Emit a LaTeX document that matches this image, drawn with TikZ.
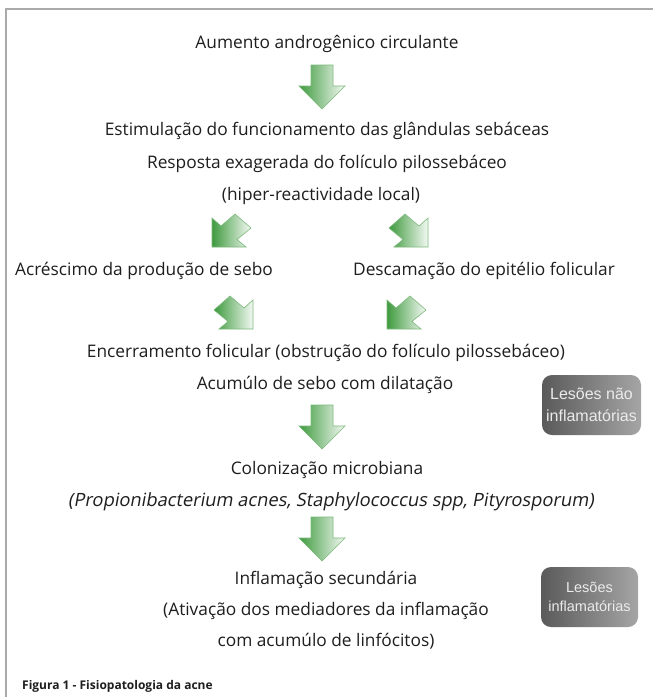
\documentclass[tikz,border=0pt]{standalone}
\usepackage{fontspec}
\setmainfont{Open Sans}
\newfontfamily\slfont[FakeSlant=0.18]{Open Sans}
\newfontfamily\boxfont{Liberation Sans}
\definecolor{gdark}{HTML}{3E9A3E}
\definecolor{glight}{HTML}{F4F9F4}
\definecolor{gline}{HTML}{7DB97D}
\definecolor{bdark}{HTML}{5A5A5A}
\definecolor{blight}{HTML}{A5A5A5}
\definecolor{frame}{HTML}{AAAAAA}
\definecolor{ink}{HTML}{1E1E1E}
\tikzset{
  txt/.style={font=\fontsize{17.3}{20}\selectfont, text=ink, inner sep=0pt, anchor=center},
  arrowfill/.style={left color=gdark, right color=glight, draw=gline, line width=0.6pt, line join=miter},
  lbox/.style={rounded corners=10pt, left color=bdark, right color=blight, text=white!92!black,
    align=center, inner sep=0pt},
  downarrow/.pic={\path[arrowfill] (-11,0) -- (11,0) -- (11,21) -- (23,21) -- (0,44) -- (-23,21) -- (-11,21) -- cycle;},
  swarrow/.pic={\path[arrowfill] (0,0) -- (34,0) -- (25,-7.5) -- (39,-19) -- (23,-33) -- (9,-21) -- (0,-29) -- cycle;},
  searrow/.pic={\path[arrowfill] (0,0) -- (-34,0) -- (-25,-7.5) -- (-39,-19) -- (-23,-33) -- (-9,-21) -- (0,-29) -- cycle;}
}
\begin{document}
\begin{tikzpicture}[x=1pt,y=-1pt]
\useasboundingbox (0,0) rectangle (653,697);
\fill[white] (0,0) rectangle (653,697);
\draw[frame, line width=1.5pt] (6,697) -- (6,9) -- (653,9);

\node[txt] (t1) at (327,44) {Aumento androgênico circulante};
\pic (a1) at (322,65) {downarrow};
\node[txt] (t2) at (327,131) {Estimulação do funcionamento das glândulas sebáceas};
\node[txt] (t3) at (327,164) {Resposta exagerada do folículo pilossebáceo};
\node[txt] (t4) at (321,196) {(hiper-reactividade local)};
\pic (a2) at (212,247) {swarrow};
\pic (a3) at (428,247) {searrow};
\node[txt] (t5a) at (144,271) {Acréscimo da produção de sebo};
\node[txt] (t5b) at (484,271) {Descamação do epitélio folicular};
\pic (a4) at (253,329) {searrow};
\pic (a5) at (387,329) {swarrow};
\node[txt] (t6) at (326,353) {Encerramento folicular (obstrução do folículo pilossebáceo)};
\node[txt] (t7) at (325,385) {Acumúlo de sebo com dilatação};
\pic (a6) at (322,405) {downarrow};
\node[txt] (t8) at (327,470) {Colonização microbiana};
\node[txt, font=\slfont\fontsize{18.3}{20}\selectfont] (t9) at (331,502) {(Propionibacterium acnes, Staphylococcus spp, Pityrosporum)};
\pic (a7) at (322,517) {downarrow};
\node[txt] (t10) at (326,580) {Inflamação secundária};
\node[txt] (t11) at (326,611) {(Ativação dos mediadores da inflamação};
\node[txt] (t12) at (326,641) {com acumúlo de linfócitos)};

\node[lbox, minimum width=99pt, minimum height=60pt, font=\boxfont\fontsize{16}{22}\selectfont] (b1) at (591.5,405) {Lesões não\\inflamatórias};
\node[lbox, minimum width=97pt, minimum height=60pt, font=\boxfont\fontsize{14.5}{19}\selectfont] (b2) at (589.5,597) {Lesões\\inflamatórias};

\node[txt, anchor=west, font=\fontsize{12}{14}\selectfont\bfseries] (cap) at (22,686) {Figura 1 - Fisiopatologia da acne};
\end{tikzpicture}
\end{document}
